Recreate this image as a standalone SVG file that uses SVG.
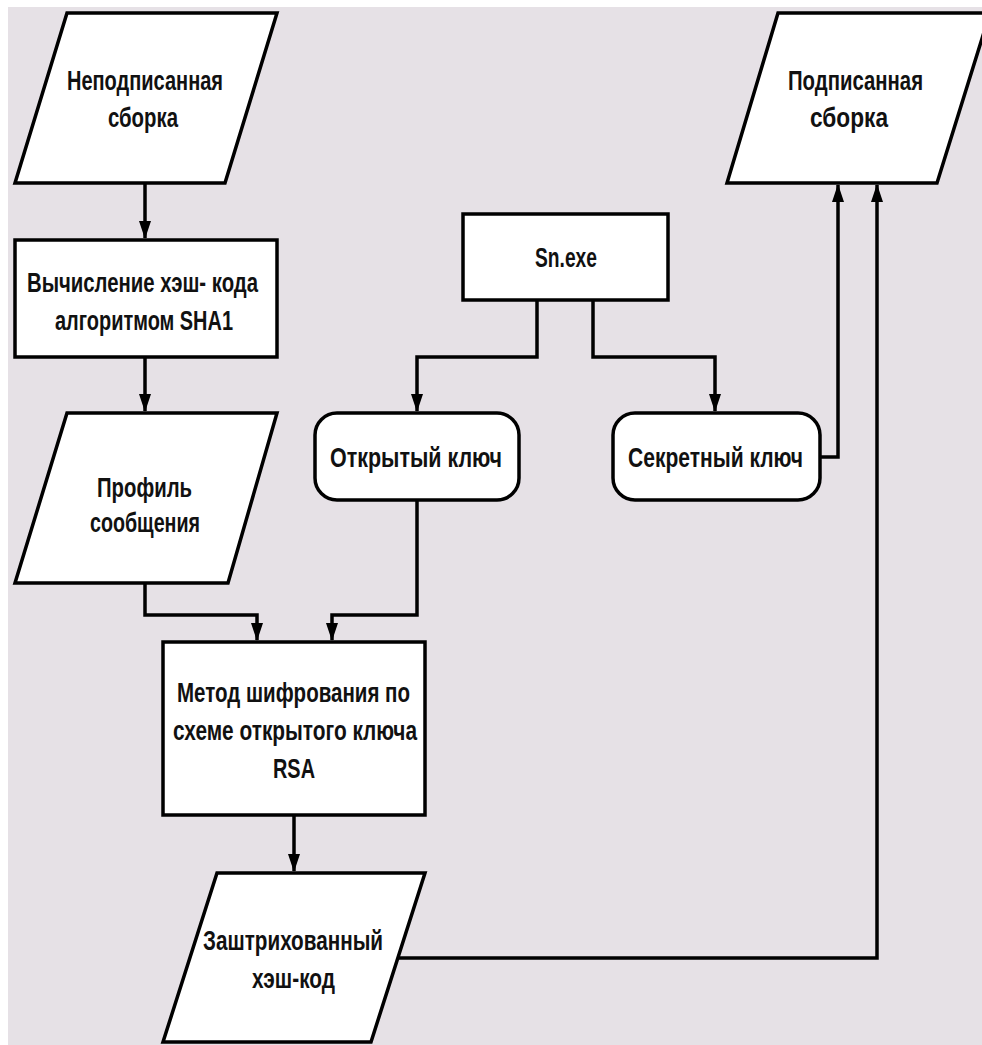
<svg xmlns="http://www.w3.org/2000/svg" width="982" height="1045" viewBox="0 0 982 1045">
  <style>
    .shape { fill: #ffffff; stroke: #000000; stroke-width: 3.5; stroke-linejoin: miter; }
    .wire { fill: none; stroke: #000000; stroke-width: 3.5; }
    .label { font-family: "Liberation Sans", Arial, sans-serif; font-size: 28px; font-weight: bold; fill: #111111; }
  </style>
  <defs>
    <marker id="arrowDown" markerUnits="userSpaceOnUse" markerWidth="12" markerHeight="18" viewBox="0 0 12 18" refX="6" refY="17" orient="0">
      <path d="M0,0 L12,0 L6,18 Z" fill="#000000"/>
    </marker>
    <marker id="arrowUp" markerUnits="userSpaceOnUse" markerWidth="12" markerHeight="18" viewBox="0 0 12 18" refX="6" refY="1" orient="0">
      <path d="M0,18 L12,18 L6,0 Z" fill="#000000"/>
    </marker>
  </defs>

  <!-- page background -->
  <rect x="0" y="0" width="982" height="1045" fill="#ffffff"/>
  <rect x="8" y="7" width="974" height="1038" fill="#e6e1e6"/>

  <!-- connectors -->
  <g id="connectors">
    <path class="wire" d="M145,183 V238" marker-end="url(#arrowDown)"/>
    <path class="wire" d="M145,357 V411" marker-end="url(#arrowDown)"/>
    <path class="wire" d="M145,583 V615 H257 V640" marker-end="url(#arrowDown)"/>
    <path class="wire" d="M417,500 V615 H332 V640" marker-end="url(#arrowDown)"/>
    <path class="wire" d="M537,300 V357 H417 V411" marker-end="url(#arrowDown)"/>
    <path class="wire" d="M593,300 V357 H715 V411" marker-end="url(#arrowDown)"/>
    <path class="wire" d="M820,457 H838 V185" marker-end="url(#arrowUp)"/>
    <path class="wire" d="M294,815 V871" marker-end="url(#arrowDown)"/>
    <path class="wire" d="M398,958 H877 V185" marker-end="url(#arrowUp)"/>
  </g>

  <g id="unsigned-assembly">
    <polygon class="shape" points="67,13 277,13 225,183 15,183"/>
    <text class="label" x="67" y="90" textLength="156" lengthAdjust="spacingAndGlyphs">Неподписанная</text>
    <text class="label" x="108" y="127" textLength="70" lengthAdjust="spacingAndGlyphs">сборка</text>
  </g>

  <g id="hash-compute">
    <rect class="shape" x="15" y="240" width="262" height="117"/>
    <text class="label" x="27" y="292" textLength="231" lengthAdjust="spacingAndGlyphs">Вычисление хэш- кода</text>
    <text class="label" x="55" y="330" textLength="178" lengthAdjust="spacingAndGlyphs">алгоритмом SHA1</text>
  </g>

  <g id="message-digest">
    <polygon class="shape" points="67,413 277,413 228,583 15,583"/>
    <text class="label" x="97" y="497" textLength="95" lengthAdjust="spacingAndGlyphs">Профиль</text>
    <text class="label" x="90" y="532" textLength="110" lengthAdjust="spacingAndGlyphs">сообщения</text>
  </g>

  <g id="sn-exe">
    <rect class="shape" x="463" y="214" width="205" height="86"/>
    <text class="label" x="535" y="267" textLength="62" lengthAdjust="spacingAndGlyphs">Sn.exe</text>
  </g>

  <g id="public-key">
    <rect class="shape" x="315" y="413" width="204" height="87" rx="22" ry="22"/>
    <text class="label" x="330" y="467" textLength="172" lengthAdjust="spacingAndGlyphs">Открытый  ключ</text>
  </g>

  <g id="secret-key">
    <rect class="shape" x="613" y="413" width="207" height="87" rx="22" ry="22"/>
    <text class="label" x="628" y="467" textLength="175" lengthAdjust="spacingAndGlyphs">Секретный  ключ</text>
  </g>

  <g id="signed-assembly">
    <polygon class="shape" points="778,13 990,13 937,183 727,183"/>
    <text class="label" x="788" y="90" textLength="135" lengthAdjust="spacingAndGlyphs">Подписанная</text>
    <text class="label" x="810" y="127" textLength="78" lengthAdjust="spacingAndGlyphs">сборка</text>
  </g>

  <g id="rsa-method">
    <rect class="shape" x="163" y="642" width="262" height="173"/>
    <text class="label" x="177" y="702" textLength="233" lengthAdjust="spacingAndGlyphs">Метод шифрования по</text>
    <text class="label" x="173" y="740" textLength="244" lengthAdjust="spacingAndGlyphs">схеме открытого ключа</text>
    <text class="label" x="273" y="778" textLength="42" lengthAdjust="spacingAndGlyphs">RSA</text>
  </g>

  <g id="encrypted-hash">
    <polygon class="shape" points="217,873 425,873 371,1042 163,1042"/>
    <text class="label" x="203" y="950" textLength="180" lengthAdjust="spacingAndGlyphs">Заштрихованный</text>
    <text class="label" x="252" y="988" textLength="83" lengthAdjust="spacingAndGlyphs">хэш-код</text>
  </g>
</svg>
